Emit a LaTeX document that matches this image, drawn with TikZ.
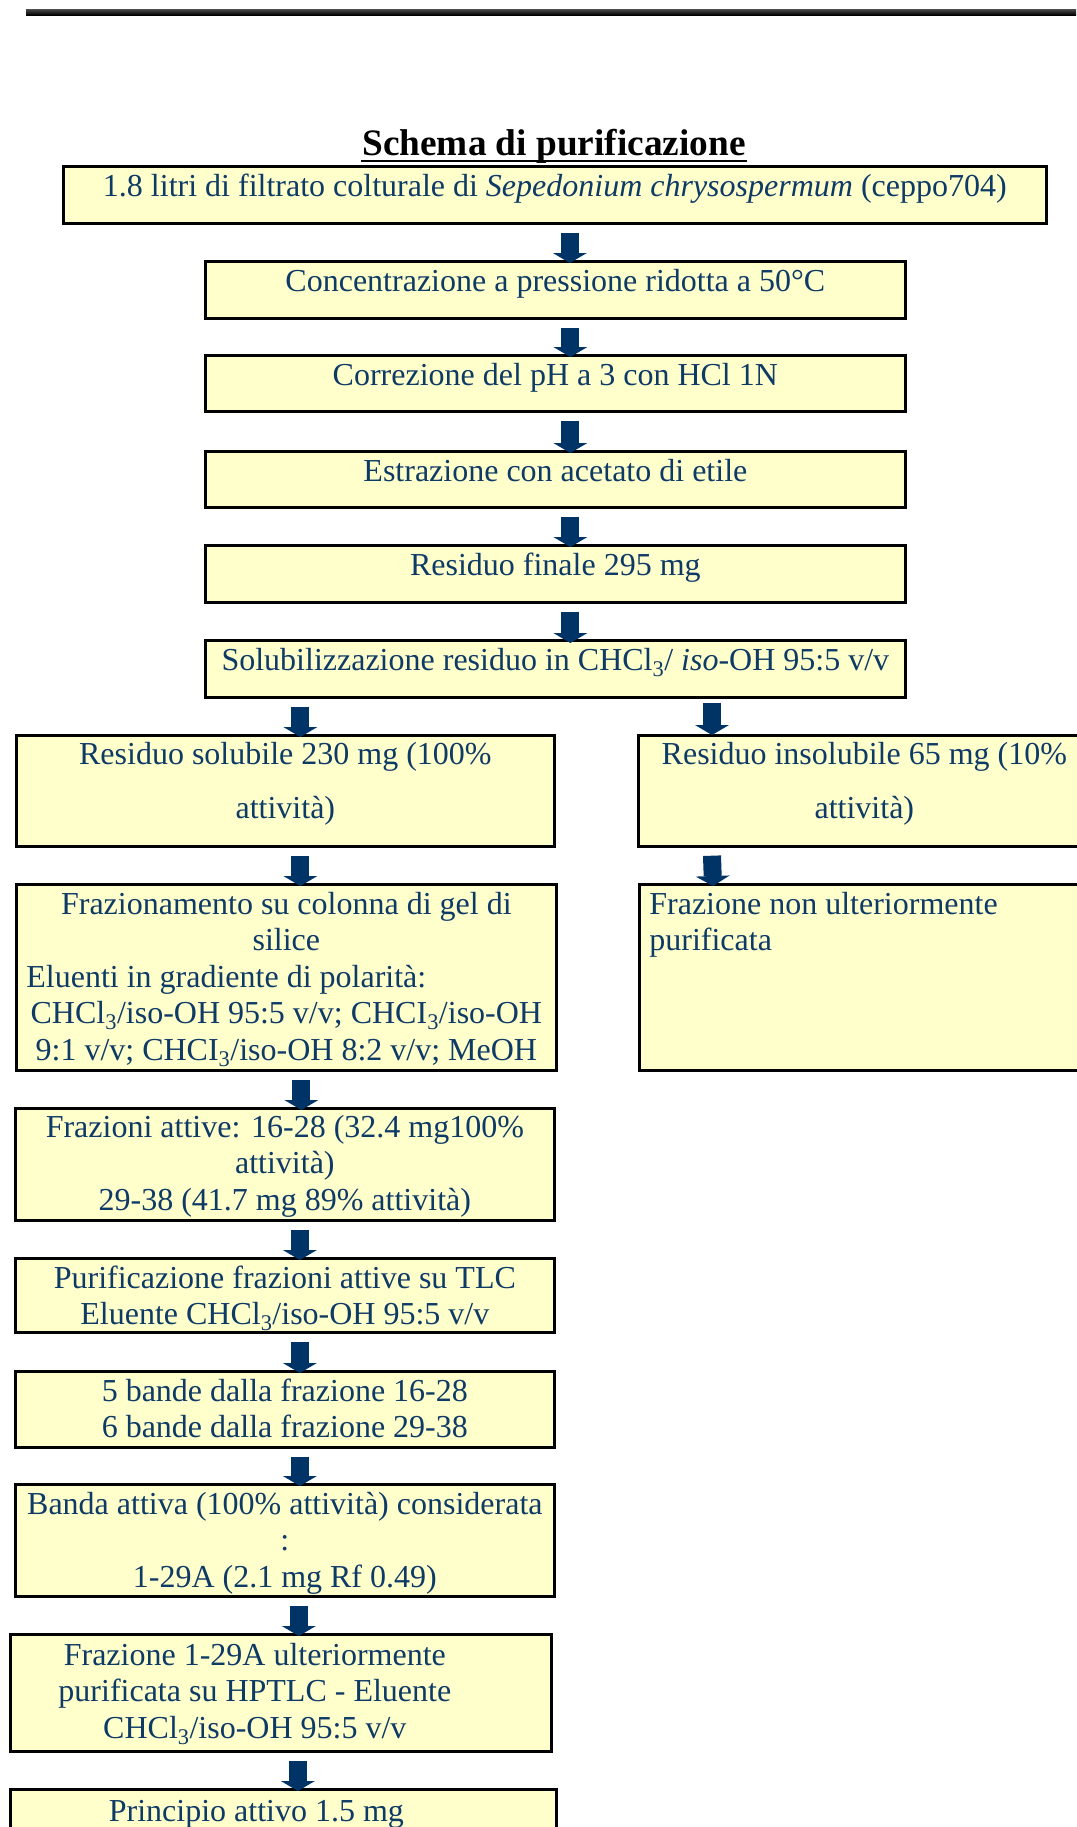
\documentclass[tikz,border=0pt]{standalone}
\usepackage{fontspec}
\setmainfont{Liberation Serif}
\usepackage{tikz}
\usetikzlibrary{arrows.meta, positioning}

\definecolor{giallino}{HTML}{FFFFCC}
\definecolor{blunotte}{HTML}{003366}
\definecolor{inchiostro}{HTML}{0E3A66}

\begin{document}
\begin{tikzpicture}[x=1bp, y=-1bp, line width=2.7bp,
    % stili
    box/.style={rectangle, draw=black, fill=giallino, inner sep=0pt, anchor=north west},
    testo/.style={text=inchiostro, inner sep=0pt, anchor=base, align=flush center,
        font=\fontsize{32bp}{36.5bp}\selectfont},
    freccia/.style={draw=blunotte, line width=18bp,
        -{Triangle[width=34bp, length=10bp, line width=0pt, fill=blunotte]}}
]
    \useasboundingbox (0,0) rectangle (1076,1827);

    % ▼▼▼【intestazione】▼▼▼
    \shade[top color=black!70, bottom color=black] (26,9) rectangle (1076,15);
    \node[testo, text=black, font=\fontsize{37.3bp}{40bp}\selectfont\bfseries] (titolo) at (554,155) {Schema di purificazione};
    \draw[line width=2.5bp] ([yshift=-6bp]titolo.base west) -- ([yshift=-6bp]titolo.base east);

    % ▼▼▼【colonna centrale】▼▼▼
    \node[box, minimum width=983bp, minimum height=57bp] (b1) at (62,165) {};
    \node[box, minimum width=700bp, minimum height=57bp] (b2) at (204,260) {};
    \node[box, minimum width=700bp, minimum height=56bp] (b3) at (204,354) {};
    \node[box, minimum width=700bp, minimum height=56bp] (b4) at (204,450) {};
    \node[box, minimum width=700bp, minimum height=57bp] (b5) at (204,544) {};
    \node[box, minimum width=700bp, minimum height=57bp] (b6) at (204,639) {};

    \node[testo] (tb1) at ([yshift=-31bp]b1.north) {1.8 litri di filtrato colturale di \textit{Sepedonium chrysospermum} (ceppo704)};
    \node[testo] (tb2) at ([yshift=-31bp]b2.north) {Concentrazione a pressione ridotta a 50°C};
    \node[testo] (tb3) at ([yshift=-31bp]b3.north) {Correzione del pH a 3 con HCl 1N};
    \node[testo] (tb4) at ([yshift=-31bp]b4.north) {Estrazione con acetato di etile};
    \node[testo] (tb5) at ([yshift=-31bp]b5.north) {Residuo finale 295 mg};
    \node[testo] (tb6) at ([yshift=-31bp]b6.north) {Solubilizzazione residuo in CHCl\textsubscript{3}/ \textit{iso}-OH 95:5 v/v};

    % ▼▼▼【colonna sinistra】▼▼▼
    \node[box, minimum width=538bp, minimum height=111bp] (l1) at (15,734) {};
    \node[box, minimum width=540bp, minimum height=186bp] (l2) at (15,883) {};
    \node[box, minimum width=539bp, minimum height=112bp] (l3) at (14,1107) {};
    \node[box, minimum width=539bp, minimum height=74bp] (l4) at (14,1257) {};
    \node[box, minimum width=539bp, minimum height=76bp] (l5) at (14,1370) {};
    \node[box, minimum width=539bp, minimum height=112bp] (l6) at (14,1483) {};
    \node[box, minimum width=541bp, minimum height=117bp] (l7) at (9,1633) {};
    \node[box, minimum width=546bp, minimum height=60bp] (l8) at (9,1788) {};

    \node[testo, text width=530bp] (tl1) at ([yshift=-30bp]l1.north) {Residuo solubile 230 mg (100\%\\[17.5bp]attività)};
    \node[testo, text width=520bp] (tl2) at ([yshift=-31bp]l2.north) {Frazionamento su colonna di gel di\\silice\\\makebox[520bp][l]{Eluenti in gradiente di polarità:}\\CHCl\textsubscript{3}/iso-OH 95:5 v/v; CHCI\textsubscript{3}/iso-OH\\9:1 v/v; CHCI\textsubscript{3}/iso-OH 8:2 v/v; MeOH};
    \node[testo, text width=530bp] (tl3) at ([yshift=-30bp]l3.north) {Frazioni attive: 16-28 (32.4 mg100\%\\attività)\\29-38 (41.7 mg 89\% attività)};
    \node[testo, text width=530bp] (tl4) at ([yshift=-31bp]l4.north) {Purificazione frazioni attive su TLC\\Eluente CHCl\textsubscript{3}/iso-OH 95:5 v/v};
    \node[testo, text width=530bp] (tl5) at ([yshift=-31bp]l5.north) {5 bande dalla frazione 16-28\\6 bande dalla frazione 29-38};
    \node[testo, text width=530bp] (tl6) at ([yshift=-31bp]l6.north) {Banda attiva (100\% attività) considerata\\:\\1-29A (2.1 mg Rf 0.49)};
    \node[testo, text width=480bp] (tl7) at ([xshift=-26bp, yshift=-32bp]l7.north) {Frazione 1-29A ulteriormente\\purificata su HPTLC - Eluente\\CHCl\textsubscript{3}/iso-OH 95:5 v/v};
    \node[testo] (tl8) at ([xshift=-27bp, yshift=-33bp]l8.north) {Principio attivo 1.5 mg};

    % ▼▼▼【colonna destra】▼▼▼
    \node[box, minimum width=452bp, minimum height=111bp] (r1) at (637,734) {};
    \node[box, minimum width=451bp, minimum height=186bp] (r2) at (638,883) {};

    \node[testo, text width=440bp] (tr1) at ([yshift=-30bp]r1.north) {Residuo insolubile 65 mg (10\%\\[17.5bp]attività)};
    \node[testo, anchor=base west, align=flush left, text width=430bp] (tr2) at ([xshift=10bp, yshift=-31bp]r2.north west) {Frazione non ulteriormente\\purificata};

    % ▼▼▼【frecce】▼▼▼
    \draw[freccia] ([xshift=15bp, yshift=-8bp]b1.south) -- ([xshift=15bp, yshift=-3bp]b1.south |- b2.north);
    \draw[freccia] ([xshift=15bp, yshift=-8bp]b2.south) -- ([xshift=15bp, yshift=-3bp]b2.south |- b3.north);
    \draw[freccia] ([xshift=15bp, yshift=-8bp]b3.south) -- ([xshift=15bp, yshift=-3bp]b3.south |- b4.north);
    \draw[freccia] ([xshift=15bp, yshift=-8bp]b4.south) -- ([xshift=15bp, yshift=-3bp]b4.south |- b5.north);
    \draw[freccia] ([xshift=15bp, yshift=-8bp]b5.south) -- ([xshift=15bp, yshift=-4bp]b5.south |- b6.north);

    % bivio
    \draw[freccia] ([xshift=15bp, yshift=-8bp]l1.north |- b6.south) -- ([xshift=15bp, yshift=-3bp]l1.north);
    \draw[freccia] ([xshift=75bp, yshift=-4bp]r1.north west |- b6.south) -- ([xshift=75bp, yshift=-1bp]r1.north west);

    % sinistra
    \draw[freccia] ([xshift=15bp, yshift=-8bp]l1.south) -- ([xshift=15bp, yshift=-3bp]l1.south |- l2.north);
    \draw[freccia] ([xshift=15bp, yshift=-8bp]l2.south) -- ([xshift=15bp, yshift=-3bp]l2.south |- l3.north);
    \draw[freccia] ([xshift=15bp, yshift=-8bp]l3.south) -- ([xshift=15bp, yshift=-3bp]l3.south |- l4.north);
    \draw[freccia] ([xshift=15bp, yshift=-8bp]l4.south) -- ([xshift=15bp, yshift=-3bp]l4.south |- l5.north);
    \draw[freccia] ([xshift=15bp, yshift=-8bp]l5.south) -- ([xshift=15bp, yshift=-3bp]l5.south |- l6.north);
    \draw[freccia] ([xshift=14bp, yshift=-8bp]l6.south) -- ([xshift=14bp, yshift=-3bp]l6.south |- l7.north);
    \draw[freccia] ([xshift=17bp, yshift=-8bp]l7.south) -- ([xshift=17bp, yshift=-3bp]l7.south |- l8.north);

    % destra
    \draw[freccia] ([xshift=75bp, yshift=-8bp]r1.north west |- r1.south) -- ([xshift=75bp, yshift=-3bp]r2.north west);

\end{tikzpicture}
\end{document}
